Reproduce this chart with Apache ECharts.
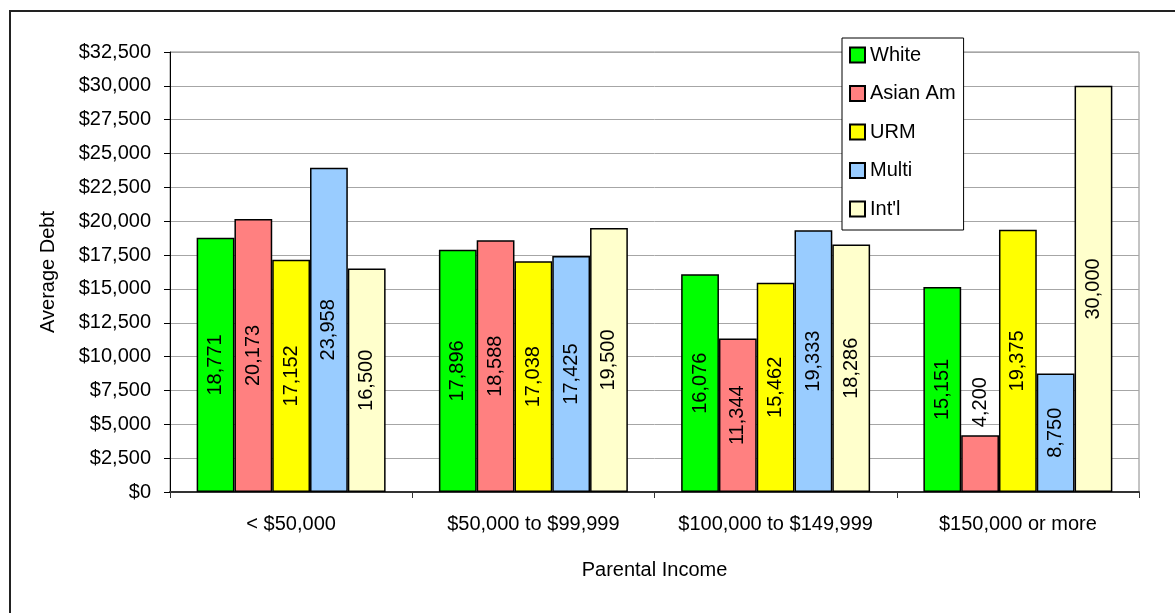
<!DOCTYPE html>
<html>
<head>
<meta charset="utf-8">
<script src="https://cdn.jsdelivr.net/npm/echarts@6/dist/echarts.min.js"></script>
<style>
  html, body { margin: 0; padding: 0; background: #fff; }
  #chart { width: 1175px; height: 613px; }
</style>
</head>
<body>
<div id="chart"></div>
<script>
const categories = ['< $50,000', '$50,000 to $99,999', '$100,000 to $149,999', '$150,000 or more'];
const seriesNames = ['White', 'Asian Am', 'URM', 'Multi', "Int'l"];
const white   = [18771, 17896, 16076, 15151];
const asianAm = [20173, 18588, 11344, 4200];
const urm     = [17152, 17038, 15462, 19375];
const multi   = [23958, 17425, 19333, 8750];
const intl    = [16500, 19500, 18286, 30000];
const yMin = 0, yMax = 32500, yStep = 2500;

const seriesValues = [white, asianAm, urm, multi, intl];
const colors = ['#00FF00', '#FF8080', '#FFFF00', '#99CCFF', '#FFFFCC'];
const FONT = "'Liberation Sans', Arial, sans-serif";

function fmtNum(v) { return String(v).replace(/\B(?=(\d{3})+(?!\d))/g, ','); }

const chart = echarts.init(document.getElementById('chart'), null, { renderer: 'canvas' });

const series = seriesValues.map((vals, i) => ({
  name: seriesNames[i],
  type: 'bar',
  barGap: '0%',
  barCategoryGap: '22%',
  itemStyle: { color: colors[i], borderColor: '#000', borderWidth: 1.5 },
  label: {
    show: true,
    position: 'inside',
    rotate: 90,
    color: '#000',
    fontFamily: FONT,
    fontSize: 20,
    formatter: p => fmtNum(p.value)
  },
  data: vals.map(v => v < 6000 ? {
    value: v,
    label: { position: 'top', align: 'left', verticalAlign: 'middle', distance: 8 }
  } : v)
}));

chart.setOption({
  animation: false,
  backgroundColor: '#fff',
  textStyle: { fontFamily: FONT },
  graphic: [{
    type: 'rect',
    shape: { x: 10, y: 11, width: 1300, height: 800 },
    style: { fill: 'none', stroke: '#222', lineWidth: 2 },
    silent: true,
    z: -1
  }],
  grid: {
    left: 170, right: 36, top: 52, bottom: 121,
    show: true, borderColor: '#888', borderWidth: 1, backgroundColor: 'transparent'
  },
  legend: {
    orient: 'vertical',
    left: 842, top: 38,
    padding: [7, 8, 11, 7],
    backgroundColor: '#fff',
    borderColor: '#000',
    borderWidth: 1,
    itemWidth: 15, itemHeight: 15,
    itemGap: 18.5,
    icon: 'rect',
    textStyle: { fontSize: 20, color: '#000', fontFamily: FONT, lineHeight: 20 },
    data: seriesNames
  },
  xAxis: {
    type: 'category',
    data: categories,
    name: 'Parental Income',
    nameLocation: 'middle',
    nameGap: 68,
    nameTextStyle: { fontSize: 20, color: '#000', fontFamily: FONT },
    axisLine: { lineStyle: { color: '#333', width: 2 } },
    axisTick: { show: true, alignWithLabel: false, length: 6, lineStyle: { color: '#333', width: 1 } },
    axisLabel: { fontSize: 20, color: '#000', margin: 22, fontFamily: FONT, interval: 0 },
    splitLine: { show: false }
  },
  yAxis: {
    type: 'value',
    min: yMin, max: yMax, interval: yStep,
    name: 'Average Debt',
    nameLocation: 'middle',
    nameGap: 112,
    nameRotate: 90,
    nameTextStyle: { fontSize: 20, color: '#000', fontFamily: FONT },
    axisLine: { show: true, lineStyle: { color: '#000', width: 1 } },
    axisTick: { show: true, length: 6, lineStyle: { color: '#000' } },
    axisLabel: { fontSize: 20, color: '#000', margin: 19, fontFamily: FONT, formatter: v => '$' + fmtNum(v) },
    splitLine: { show: true, lineStyle: { color: '#a6a6a6', width: 1 } }
  },
  series: series
});
</script>
</body>
</html>
